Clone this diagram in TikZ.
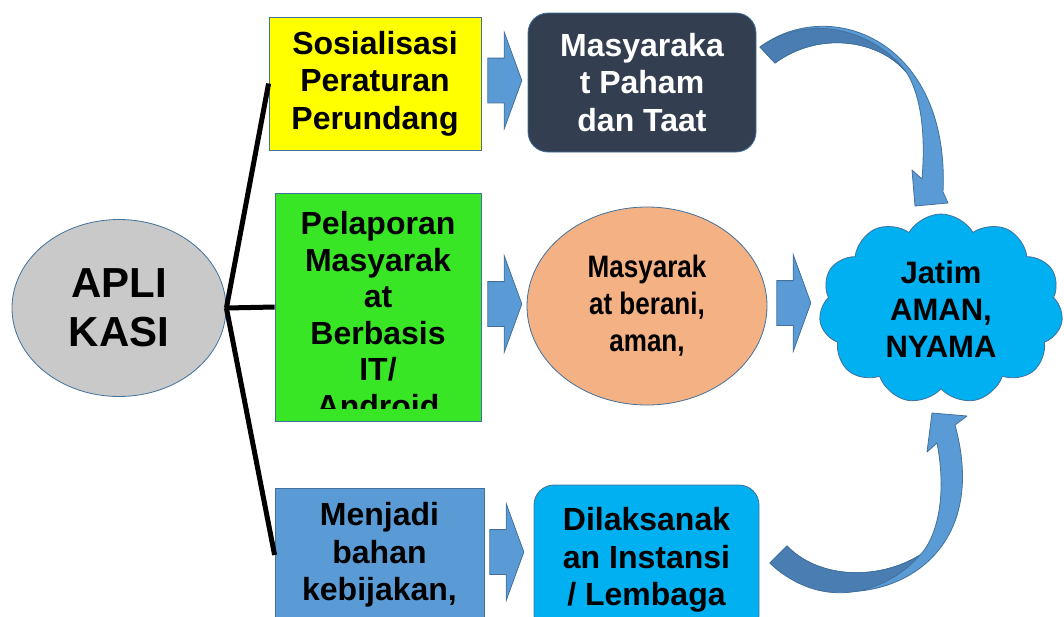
\documentclass[tikz,border=0pt]{standalone}
\usepackage{fontspec}
\setmainfont{Liberation Sans}
\newfontfamily\narrowsans{Liberation Sans}[FakeStretch=0.84]
\usetikzlibrary{shapes.geometric, shapes.symbols, shapes.arrows}

\definecolor{edgeblue}{HTML}{41719C}
\definecolor{apligray}{HTML}{C9C9C9}
\definecolor{sosyellow}{HTML}{FFFF00}
\definecolor{lapgreen}{HTML}{39E626}
\definecolor{bahanblue}{HTML}{5B9BD5}
\definecolor{pahamdark}{HTML}{333F50}
\definecolor{beraniorange}{HTML}{F4B183}
\definecolor{jatimcyan}{HTML}{00B0F0}
\definecolor{arrowblue}{HTML}{5B9BD5}
\definecolor{arrowdark}{HTML}{4A7DB2}

\begin{document}
\begin{tikzpicture}[x=1pt, y=-1pt,
    box/.style={rectangle, draw=edgeblue, line width=0.8pt, align=center, inner sep=0pt, font=\fontsize{32}{37.5}\selectfont\bfseries},
    rbox/.style={box, rounded corners=20pt},
    oval/.style={ellipse, draw=edgeblue, line width=0.8pt, align=center, inner sep=0pt},
    blockarrow/.style={single arrow, anchor=tail, draw=edgeblue, fill=arrowblue, line width=0.8pt, inner xsep=0pt, inner ysep=22pt, minimum height=34pt, minimum width=96pt, single arrow head extend=26pt, single arrow tip angle=140, single arrow head indent=0pt},
    branch/.style={line width=5pt},
    curvearrow/.style={draw=edgeblue, line width=0.8pt, line join=round}
]
\useasboundingbox (0,0) rectangle (1064,616);
\clip (0,0) rectangle (1064,616);

% Akar
\node[oval, fill=apligray, minimum width=214pt, minimum height=177pt, font=\fontsize{42}{49}\selectfont\bfseries] (apli) at (119,308) {APLI\\KASI};

% Kolom kegiatan
\node[box, fill=sosyellow, minimum width=212pt, minimum height=133pt] (sos) at (375,83.5) {Sosialisasi\\Peraturan\\Perundang};
\node[box, fill=lapgreen, minimum width=206pt, minimum height=228pt, path picture={
    \clip ([yshift=13pt]path picture bounding box.south west) rectangle (path picture bounding box.north east);
    \node[anchor=base, align=center, inner sep=0pt, font=\fontsize{32}{36.5}\selectfont\bfseries] (lapor-txt) at ([yshift=-224pt]path picture bounding box.north) {Pelaporan\\Masyarak\\at\\Berbasis\\IT/\\Android};
}] (lapor) at (378,307) {};
\node[box, fill=bahanblue, minimum width=209pt, minimum height=134pt] (bahan) at (379.5,555) {Menjadi\\bahan\\kebijakan,};

% Kolom hasil
\node[rbox, fill=pahamdark, text=white, minimum width=228pt, minimum height=139pt] (paham) at (642,82.5) {Masyaraka\\t Paham\\dan Taat};
\node[oval, fill=beraniorange, minimum width=240pt, minimum height=198pt, font=\narrowsans\fontsize{31}{37}\selectfont\bfseries] (berani) at (647,306) {Masyarak\\at berani,\\aman,};
\node[rbox, fill=jatimcyan, minimum width=225pt, minimum height=150pt] (laksana) at (646.5,560) {Dilaksanak\\an Instansi\\/ Lembaga};

% Tujuan
\node[cloud, cloud puffs=11, cloud puff arc=120, cloud ignores aspect, draw=edgeblue, line width=0.8pt, fill=jatimcyan, minimum width=244pt, minimum height=190pt, align=center, inner sep=0pt, font=\fontsize{31}{37}\selectfont\bfseries] (jatim) at (941,309) {Jatim\\AMAN,\\NYAMA};

% Cabang
\draw[branch] (apli.east) -- (sos.west);
\draw[branch] (apli.east) -- (lapor.west);
\draw[branch] (apli.east) -- (bahan.west);

% Panah blok
\node[blockarrow] (p1) at ([xshift=6pt, yshift=3pt]sos.east) {};
\node[blockarrow] (p2) at ([xshift=6pt, yshift=3pt]lapor.east) {};
\node[blockarrow] (p3) at ([xshift=5pt, yshift=3pt]bahan.east) {};
\node[blockarrow] (p4) at ([xshift=9pt, yshift=3pt]berani.east) {};

% Panah lengkung atas
\path[curvearrow, fill=arrowblue] (760,47) .. controls (830,-5) and (950,40) .. (943,192)
    -- (948,203) -- (915,206) -- (912,170) -- (922,179)
    .. controls (926,130) and (920,95) .. (907,73)
    .. controls (880,40) and (820,30) .. (775,63) -- cycle;
\path[curvearrow, fill=arrowdark] (760,47) .. controls (810,12) and (875,30) .. (907,73)
    .. controls (880,40) and (820,30) .. (775,63) -- cycle;

% Panah lengkung bawah
\path[curvearrow, fill=arrowblue] (770,563) .. controls (830,625) and (1000,590) .. (955,425)
    -- (967,416) -- (932,413) -- (927,452) -- (937,443)
    .. controls (948,500) and (935,540) .. (920,555)
    .. controls (880,580) and (820,580) .. (787,546) -- cycle;
\path[curvearrow, fill=arrowdark] (770,563) .. controls (825,615) and (890,590) .. (920,555)
    .. controls (880,580) and (820,580) .. (787,546) -- cycle;
\end{tikzpicture}
\end{document}
